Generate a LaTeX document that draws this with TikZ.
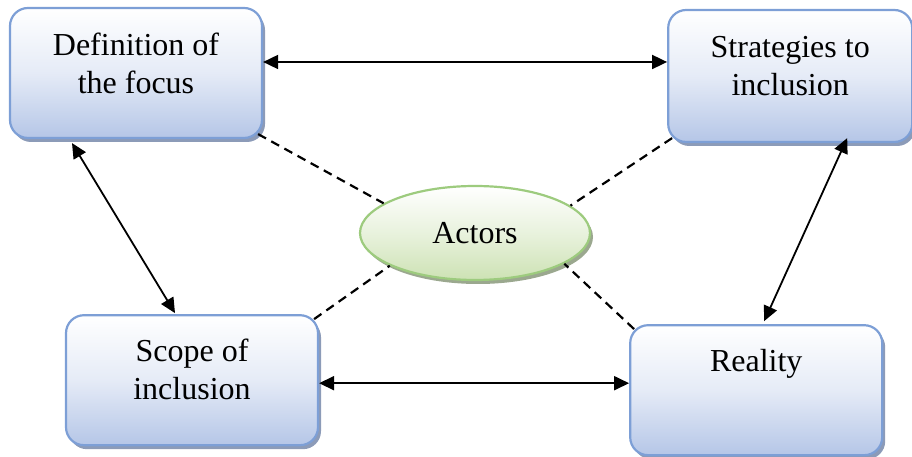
\documentclass[tikz,border=0pt]{standalone}
\usepackage{fontspec}
\setmainfont{Liberation Serif}
\usetikzlibrary{shapes.geometric,arrows.meta,positioning,shadows}
\definecolor{bxblue}{HTML}{B5C6E7}
\definecolor{bxedge}{HTML}{7D9FD6}
\definecolor{bxshade}{HTML}{8C9BB8}
\definecolor{elgreen}{HTML}{CDE2B4}
\definecolor{eledge}{HTML}{9DCB7E}
\definecolor{elshade}{HTML}{9BA88F}

\begin{document}
\begin{tikzpicture}[x=1pt,y=1pt,
  every node/.style={font=\fontsize{32}{38}\selectfont},
  block/.style={rectangle,draw=bxedge,line width=2.2pt,rounded corners=18pt,
                minimum width=252pt,minimum height=130pt,inner sep=0pt,
                top color=white,bottom color=bxblue,middle color=bxblue!35,
                drop shadow={shadow xshift=3pt,shadow yshift=-4pt,fill=bxshade,opacity=1}},
  oval/.style={ellipse,draw=eledge,line width=2.2pt,
               minimum width=230pt,minimum height=94pt,inner sep=0pt,
               top color=white,bottom color=elgreen,middle color=elgreen!45,
               drop shadow={shadow xshift=3pt,shadow yshift=-4pt,fill=elshade,opacity=1}},
  txt/.style={anchor=north,align=center,inner sep=0pt},
  link/.style={{Triangle[length=15pt,width=14pt]}-{Triangle[length=15pt,width=14pt]},line width=1.8pt},
  tie/.style={line width=2.2pt,dash pattern=on 9pt off 6pt}
]
\useasboundingbox (0,0) rectangle (912,457);

%% ---- boxes ----
\node[block] (def) at (136,384) {};
\node[block,right=404pt of def,yshift=-3pt,minimum width=244pt,minimum height=132pt] (strat) {};
\node[block,below=175pt of def,xshift=56pt] (scope) {};
\node[block,right=310pt of scope,yshift=-10pt] (real) {};

%% ---- box texts ----
\node[txt] (deftxt)   at ([yshift=-26pt]def.north)   {Definition of\\the focus};
\node[txt] (strattxt) at ([yshift=-27pt]strat.north) {Strategies to\\inclusion};
\node[txt] (scopetxt) at ([yshift=-25pt]scope.north) {Scope of\\inclusion};
\node[txt] (realtxt)  at ([yshift=-25pt]real.north)  {Reality};

%% ---- centre ----
\node[oval] (actors) at (475,224) {Actors};

%% ---- arrows ----
\draw[link] ([yshift=11pt]def.east) -- ([yshift=14pt]strat.west);
\draw[link] ([yshift=-3pt]scope.east) -- ([yshift=7pt]real.west);
\draw[link] ([xshift=-64pt,yshift=-4pt]def.south) -- ([xshift=-17pt,yshift=1pt]scope.north);
\draw[link] ([xshift=57pt,yshift=5pt]strat.south) -- ([xshift=8pt,yshift=3pt]real.north);

%% ---- dashed ties ----
\draw[tie] ([xshift=-5pt,yshift=5pt]def.south east) -- (actors.162);
\draw[tie] ([xshift=5pt,yshift=5pt]strat.south west) -- (actors.16);
\draw[tie] ([xshift=-5pt,yshift=-5pt]scope.north east) -- (actors.201);
\draw[tie] ([xshift=5pt,yshift=-5pt]real.north west) -- (actors.341);

\end{tikzpicture}
\end{document}
